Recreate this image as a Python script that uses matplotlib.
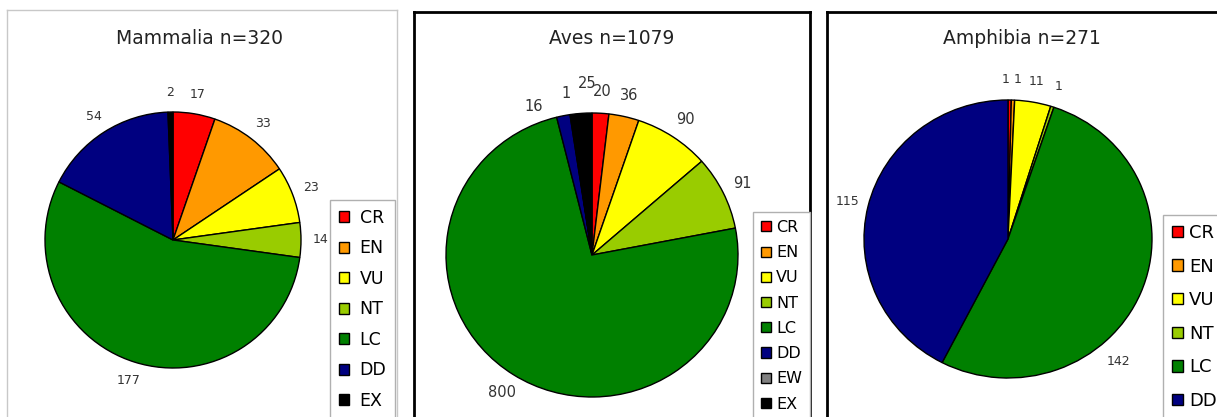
import matplotlib.pyplot as plt
import numpy as np

W, H = 1217, 417

colours = {'CR': '#ff0000', 'EN': '#ff9900', 'VU': '#ffff00', 'NT': '#99cc00',
           'LC': '#008000', 'DD': '#000080', 'EW': '#808080', 'EX': '#000000'}

mam_cats = ['CR', 'EN', 'VU', 'NT', 'LC', 'DD', 'EX']
mam_vals = [17, 33, 23, 14, 177, 54, 2]

aves_cats = ['CR', 'EN', 'VU', 'NT', 'LC', 'DD', 'EW', 'EX']
aves_vals = [20, 36, 90, 91, 800, 16, 1, 25]

amph_cats = ['CR', 'EN', 'VU', 'NT', 'LC', 'DD']
amph_vals = [1, 1, 11, 1, 142, 115]

fig = plt.figure(figsize=(W / 100, H / 100), dpi=100)


def fig_rect(l, t, r, b):
    return (l / W, 1 - b / H, (r - l) / W, (b - t) / H)


def move_label(txt, angle, dist):
    a = np.deg2rad(angle)
    txt.set_position((dist * np.cos(a), dist * np.sin(a)))


def draw_panel(cats, vals, title, box, centre, radius, edge, edge_lw,
               title_xy, title_size, num_size, leg_xy, leg_size, leg_space, text_pad):
    ax = fig.add_axes(fig_rect(*box))
    wedges, texts = ax.pie(vals, labels=[str(v) for v in vals],
                           colors=[colours[c] for c in cats],
                           startangle=90, counterclock=False, labeldistance=1.15,
                           wedgeprops=dict(edgecolor='black', linewidth=1),
                           textprops=dict(fontsize=num_size, color='#333333'))
    for t in texts:
        t.set_ha('center')
        t.set_va('center')

    # put the pie where it sits in the original (pixel centre / radius)
    l, t, r, b = box
    cx, cy = centre
    rx, ry = radius
    ax.set_aspect('auto')
    xmin = -(cx - l) / rx
    ax.set_xlim(xmin, xmin + (r - l) / rx)
    ymin = -(b - cy) / ry
    ax.set_ylim(ymin, ymin + (b - t) / ry)

    # panel border
    ax.set_frame_on(True)
    for s in ax.spines.values():
        s.set_color(edge)
        s.set_linewidth(edge_lw)
    ax.set_xticks([])
    ax.set_yticks([])

    fig.text(title_xy[0] / W, 1 - title_xy[1] / H, title, fontsize=title_size,
             ha='center', va='center', color='#222222')

    leg = ax.legend(wedges, cats, loc='upper left',
                    bbox_to_anchor=(leg_xy[0] / W, 1 - leg_xy[1] / H),
                    bbox_transform=fig.transFigure, borderaxespad=0,
                    fontsize=leg_size, labelspacing=leg_space,
                    handlelength=0.6, handleheight=0.6, handletextpad=text_pad,
                    borderpad=0.5, fancybox=False, framealpha=1)
    leg.get_frame().set_edgecolor('#b0b0b0')
    leg.get_frame().set_linewidth(1)
    for h in leg.legend_handles:
        h.set_edgecolor('black')
        h.set_linewidth(1)
    return ax, texts


ax1, texts1 = draw_panel(mam_cats, mam_vals, 'Mammalia n=320',
                         box=(7, 10, 397, 440), centre=(173, 240), radius=(128, 128),
                         edge='#c8c8c8', edge_lw=1, title_xy=(200, 38), title_size=13.5,
                         num_size=9, leg_xy=(330, 200), leg_size=12.5, leg_space=0.72,
                         text_pad=0.6)

ax2, texts2 = draw_panel(aves_cats, aves_vals, 'Aves n=1079',
                         box=(414, 12, 810, 440), centre=(592, 255), radius=(146, 142),
                         edge='black', edge_lw=2, title_xy=(612, 38), title_size=13.5,
                         num_size=10.5, leg_xy=(753, 212), leg_size=11.5, leg_space=0.64,
                         text_pad=0.35)
# small top slices: labels were spread apart in the original
move_label(texts2[5], 111, 1.12)
move_label(texts2[6], 99, 1.15)
move_label(texts2[7], 91.5, 1.21)

ax3, texts3 = draw_panel(amph_cats, amph_vals, 'Amphibia n=271',
                         box=(827, 12, 1240, 440), centre=(1008, 239), radius=(144, 139),
                         edge='black', edge_lw=2, title_xy=(1022, 38), title_size=13.5,
                         num_size=9, leg_xy=(1163, 215), leg_size=13, leg_space=0.86,
                         text_pad=0.35)
# the two single-species labels sit side by side, and the LC label was moved
texts3[0].set_ha('right')
texts3[1].set_ha('left')
move_label(texts3[4], -49, 1.17)

fig.savefig('out.png', dpi=100)
